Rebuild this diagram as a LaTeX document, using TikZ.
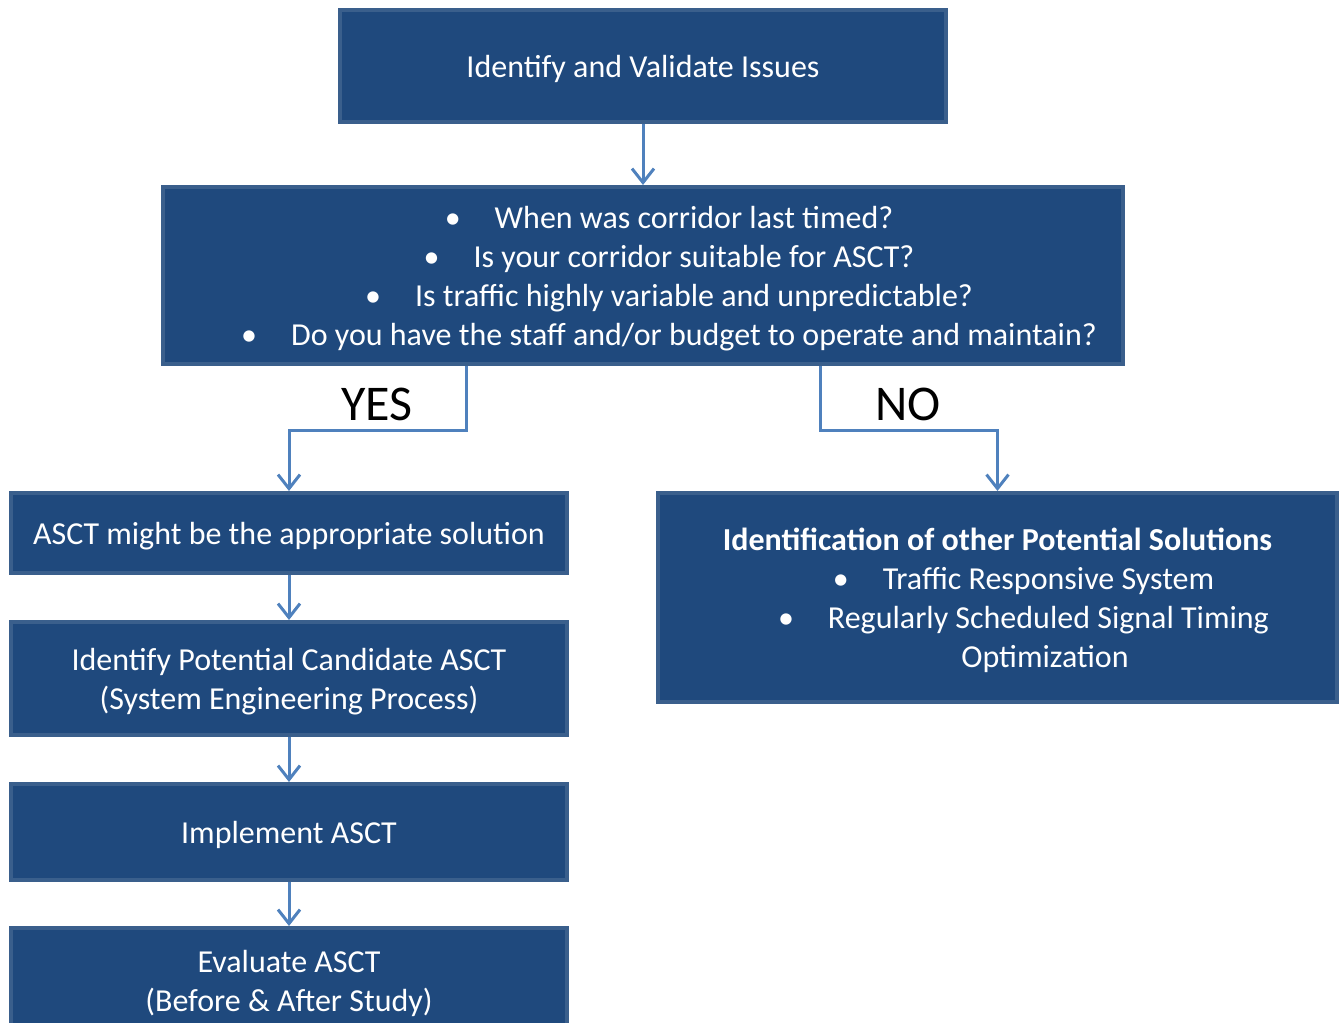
\documentclass[tikz,border=0pt]{standalone}
\usepackage{fontspec}
\setmainfont{Carlito}
\usepackage{xcolor}
\usetikzlibrary{positioning,arrows.meta}
\definecolor{boxfill}{HTML}{1F497D}
\definecolor{boxline}{HTML}{3A5F8C}
\definecolor{arrowblue}{HTML}{4F81BD}
\tikzset{
stepbox/.style={fill=boxfill, draw=boxline, line width=2pt, text=white, align=center, inner sep=0pt,
  font=\fontsize{16}{19.5}\selectfont, text depth=0pt},
flow/.style={draw=arrowblue, line width=1.5pt, -{Straight Barb[length=7pt,width=11pt]}},
answer/.style={font=\fontsize{25}{30}\selectfont}
}
\newcommand{\bul}{\hspace*{26pt}\textbullet\hspace{17pt}}

\begin{document}
\begin{tikzpicture}[x=0.5pt,y=-0.5pt]
\clip (0,0) rectangle (1341,1023);
\useasboundingbox (0,0) rectangle (1341,1023);

\node[stepbox, minimum width=303pt, minimum height=56pt] (issues) at (643,66) {Identify and Validate Issues};
\node[stepbox, minimum width=480pt, minimum height=88.5pt] (questions) at (643,275.5)
  {\bul When was corridor last timed?\\
   \bul Is your corridor suitable for ASCT?\\
   \bul Is traffic highly variable and unpredictable?\\
   \bul Do you have the staff and/or budget to operate and maintain?};

\node[stepbox, minimum width=278pt, minimum height=40pt] (might) at (289,533) {ASCT might be the appropriate solution};
\node[stepbox, minimum width=278pt, minimum height=56.5pt] (candidate) at (289,678.5)
  {Identify Potential Candidate ASCT\\(System Engineering Process)};
\node[stepbox, minimum width=278pt, minimum height=48pt] (implement) at (289,832) {Implement ASCT};
\node[stepbox, minimum width=278pt, minimum height=53pt] (evaluate) at (289,981)
  {Evaluate ASCT\\(Before \& After Study)};

\node[stepbox, minimum width=339.5pt, minimum height=104.5pt] (other) at (997.5,597.5)
  {\textbf{Identification of other Potential Solutions}\\
   \bul Traffic Responsive System\\
   \bul Regularly Scheduled Signal Timing\\
   \hspace*{47.5pt}Optimization};

% connectors
\coordinate (yesbend) at (466,430);
\coordinate (nobend) at (820,430);
\draw[flow] (issues) -- (questions);
\draw[flow] (questions.south -| yesbend) -- (yesbend) -| (might.north);
\draw[flow] (questions.south -| nobend) -- (nobend) -| (other.north);
\draw[flow] (might) -- (candidate);
\draw[flow] (candidate) -- (implement);
\draw[flow] (implement) -- (evaluate);

\node[answer] (yes) at (377,404) {YES};
\node[answer] (no) at (908,404) {NO};
\end{tikzpicture}
\end{document}
